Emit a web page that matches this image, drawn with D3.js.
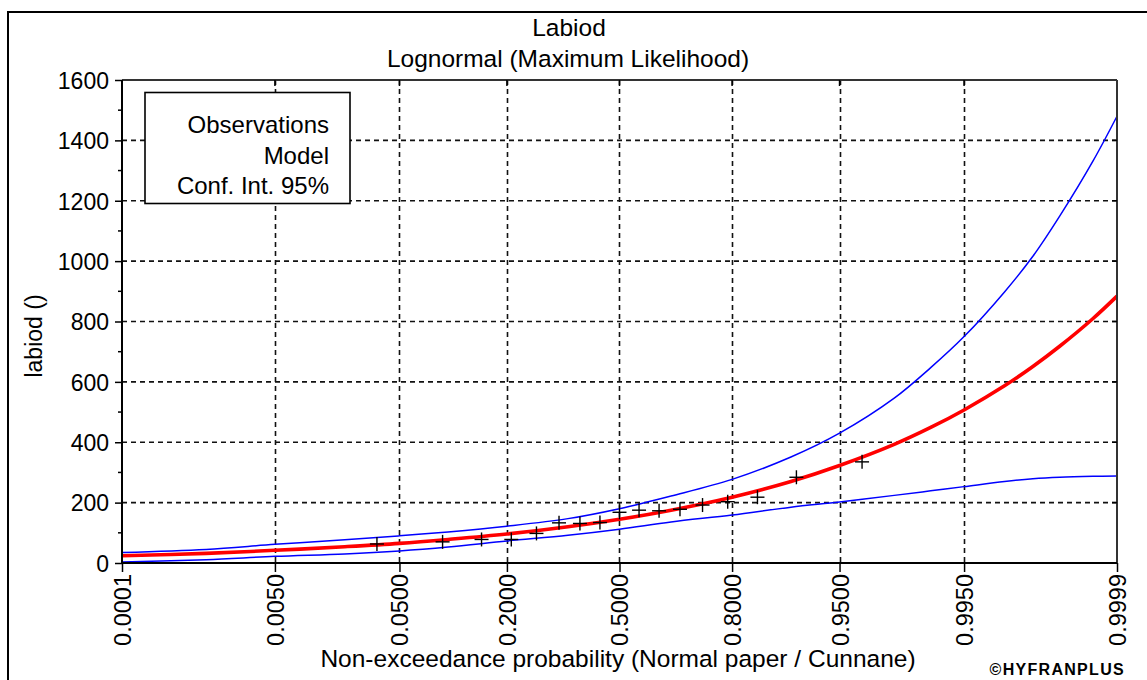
<!DOCTYPE html>
<html>
<head>
<meta charset="utf-8">
<script src="https://cdn.jsdelivr.net/npm/d3@7"></script>
<style>
  body { margin: 0; background: #fff; }
  svg { display: block; }
  text { font-family: Arial, "Liberation Sans", sans-serif; fill: #000; }
</style>
</head>
<body>
<svg id="chart" width="1147" height="680"></svg>
<script>
// Probability axis (normal paper) ticks and labels
const probTicks = [0.0001, 0.005, 0.05, 0.2, 0.5, 0.8, 0.95, 0.995, 0.9999];
const probTickLabels = ["0.0001", "0.0050", "0.0500", "0.2000", "0.5000", "0.8000", "0.9500", "0.9950", "0.9999"];
const valueTicks = [0, 200, 400, 600, 800, 1000, 1200, 1400, 1600];
const valueMinorTicks = [100, 300, 500, 700, 900, 1100, 1300, 1500];

// Observations with Cunnane plotting positions
const obsProb = [0.0349, 0.0930, 0.1512, 0.2093, 0.2674, 0.3256, 0.3837, 0.4419, 0.5000,
                 0.5581, 0.6163, 0.6744, 0.7326, 0.7907, 0.8488, 0.9070, 0.9651];
const obsValue = [63, 70, 78, 78, 98, 133, 131, 134, 168, 175, 173, 178, 192, 203, 218, 284, 335];

// Fitted lognormal model and 95% confidence bounds
const curveProb = [0.0001, 0.001, 0.005, 0.02, 0.05, 0.1, 0.2, 0.35, 0.5, 0.65, 0.8, 0.9,
                   0.95, 0.98, 0.99, 0.995, 0.998, 0.999, 0.9995, 0.9998, 0.9999];
const modelValue = [24, 32, 42, 54, 65, 78, 96, 120, 145, 175, 218, 270,
                    323, 393, 449, 507, 587, 651, 718, 810, 884];
const upperValue = [35, 45, 62, 77, 90, 103, 122, 147, 180, 222, 277, 351,
                    430, 546, 647, 750, 898, 1016, 1149, 1332, 1480];
const lowerValue = [3, 11, 22, 30, 40, 53, 73, 92, 112, 136, 159, 185,
                    202, 224, 239, 253, 270, 279, 284, 287, 288];

// Inverse standard normal CDF (Acklam's rational approximation)
function probit(p) {
  const a = [-3.969683028665376e+01, 2.209460984245205e+02, -2.759285104469687e+02,
             1.383577518672690e+02, -3.066479806614716e+01, 2.506628277459239e+00];
  const b = [-5.447609879822406e+01, 1.615858368580409e+02, -1.556989798598866e+02,
             6.680131188771972e+01, -1.328068155288572e+01];
  const c = [-7.784894002430293e-03, -3.223964580411365e-01, -2.400758277161838e+00,
             -2.549732539343734e+00, 4.374664141464968e+00, 2.938163982698783e+00];
  const d = [7.784695709041462e-03, 3.224671290700398e-01, 2.445134137142996e+00,
             3.754408661907416e+00];
  const pl = 0.02425, ph = 1 - pl;
  let q, r;
  if (p < pl) {
    q = Math.sqrt(-2 * Math.log(p));
    return (((((c[0]*q + c[1])*q + c[2])*q + c[3])*q + c[4])*q + c[5]) /
           ((((d[0]*q + d[1])*q + d[2])*q + d[3])*q + 1);
  }
  if (p > ph) {
    q = Math.sqrt(-2 * Math.log(1 - p));
    return -(((((c[0]*q + c[1])*q + c[2])*q + c[3])*q + c[4])*q + c[5]) /
            ((((d[0]*q + d[1])*q + d[2])*q + d[3])*q + 1);
  }
  q = p - 0.5; r = q * q;
  return (((((a[0]*r + a[1])*r + a[2])*r + a[3])*r + a[4])*r + a[5]) * q /
         (((((b[0]*r + b[1])*r + b[2])*r + b[3])*r + b[4])*r + 1);
}

const svg = d3.select("#chart");
const W = 1147, H = 680;
const plot = { left: 122, right: 1117, top: 80, bottom: 563 };

const x = d3.scaleLinear()
  .domain([probit(0.0001), probit(0.9999)])
  .range([plot.left, plot.right]);
const xp = p => x(probit(p));
const y = d3.scaleLinear().domain([0, 1600]).range([plot.bottom, plot.top]);

// Outer frame
svg.append("rect")
  .attr("x", 8).attr("y", 12).attr("width", W + 20).attr("height", H + 20)
  .attr("fill", "none").attr("stroke", "#000").attr("stroke-width", 2);

// Titles
svg.append("text").attr("x", 569).attr("y", 36).attr("text-anchor", "middle")
  .style("font-size", "24.5px").text("Labiod");
svg.append("text").attr("x", 568).attr("y", 67).attr("text-anchor", "middle")
  .style("font-size", "24.5px").text("Lognormal (Maximum Likelihood)");

// Grid
const grid = svg.append("g").attr("stroke", "#111").attr("stroke-width", 1.6)
  .attr("stroke-dasharray", "5,4");
grid.selectAll("line.v").data(probTicks.slice(1, -1)).join("line")
  .attr("class", "v")
  .attr("x1", d => Math.round(xp(d)) + 0.5).attr("x2", d => Math.round(xp(d)) + 0.5)
  .attr("y1", plot.top).attr("y2", plot.bottom);
grid.selectAll("line.h").data(valueTicks.slice(1, -1)).join("line")
  .attr("class", "h")
  .attr("x1", plot.left).attr("x2", plot.right)
  .attr("y1", d => y(d)).attr("y2", d => y(d));

// Curves
svg.append("clipPath").attr("id", "plotclip").append("rect")
  .attr("x", plot.left).attr("y", plot.top)
  .attr("width", plot.right - plot.left).attr("height", plot.bottom - plot.top);

const curves = svg.append("g").attr("clip-path", "url(#plotclip)");
const lineOf = vals => d3.line()
  .x((d, i) => xp(curveProb[i]))
  .y(d => y(d))
  .curve(d3.curveCatmullRom.alpha(0.5))(vals);

curves.append("path").attr("d", lineOf(upperValue))
  .attr("fill", "none").attr("stroke", "#0000ff").attr("stroke-width", 1.5);
curves.append("path").attr("d", lineOf(lowerValue))
  .attr("fill", "none").attr("stroke", "#0000ff").attr("stroke-width", 1.5);
curves.append("path").attr("d", lineOf(modelValue))
  .attr("fill", "none").attr("stroke", "#ff0000").attr("stroke-width", 3.6);

// Observations (+ markers)
const marks = svg.append("g").attr("stroke", "#000").attr("stroke-width", 1.4);
const s = 7;
obsValue.forEach((v, i) => {
  const cx = xp(obsProb[i]), cy = y(v);
  marks.append("line").attr("x1", cx - s).attr("x2", cx + s).attr("y1", cy).attr("y2", cy);
  marks.append("line").attr("x1", cx).attr("x2", cx).attr("y1", cy - s).attr("y2", cy + s);
});

// Plot frame
svg.append("line").attr("x1", plot.left).attr("x2", plot.right)
  .attr("y1", plot.top).attr("y2", plot.top).attr("stroke", "#333").attr("stroke-width", 2);
svg.append("line").attr("x1", plot.right).attr("x2", plot.right)
  .attr("y1", plot.top).attr("y2", plot.bottom).attr("stroke", "#333").attr("stroke-width", 2);

// Left axis
const yAxis = svg.append("g").attr("transform", `translate(${plot.left},0)`)
  .call(d3.axisLeft(y).tickValues(valueTicks).tickSize(7).tickFormat(d3.format("d")));
yAxis.select(".domain").attr("stroke", "#000").attr("stroke-width", 2)
  .attr("d", `M0,${plot.top}V${plot.bottom}`);
yAxis.selectAll(".tick line").attr("stroke", "#000").attr("stroke-width", 1.5);
yAxis.selectAll(".tick text").style("font-size", "23px").attr("x", -13).attr("dy", "0.36em")
  .style("font-family", "Arial, 'Liberation Sans', sans-serif").attr("fill", "#000");
yAxis.selectAll(".minor").data(valueMinorTicks).join("line")
  .attr("class", "minor").attr("x1", -4).attr("x2", 0)
  .attr("y1", d => y(d)).attr("y2", d => y(d))
  .attr("stroke", "#000").attr("stroke-width", 1.5);

// Right axis ticks
svg.append("g").selectAll("line").data(valueTicks.slice(1, -1)).join("line")
  .attr("x1", plot.right - 5).attr("x2", plot.right)
  .attr("y1", d => y(d)).attr("y2", d => y(d))
  .attr("stroke", "#000").attr("stroke-width", 1.5);

// Top axis ticks
svg.append("g").selectAll("line").data(probTicks.slice(1, -1)).join("line")
  .attr("x1", d => xp(d)).attr("x2", d => xp(d))
  .attr("y1", plot.top).attr("y2", plot.top + 6)
  .attr("stroke", "#000").attr("stroke-width", 1.5);

// Bottom axis
const xAxis = svg.append("g").attr("transform", `translate(0,${plot.bottom})`)
  .call(d3.axisBottom(x).tickValues(probTicks.map(probit)).tickSize(9)
    .tickFormat((d, i) => probTickLabels[i]));
xAxis.select(".domain").attr("stroke", "#000").attr("stroke-width", 2)
  .attr("d", `M${plot.left},0H${plot.right}`);
xAxis.selectAll(".tick line").attr("stroke", "#000").attr("stroke-width", 1.5);
xAxis.selectAll(".tick text")
  .style("font-size", "23.5px")
  .style("font-family", "Arial, 'Liberation Sans', sans-serif").attr("fill", "#000")
  .attr("text-anchor", "end")
  .attr("transform", "rotate(-90)")
  .attr("x", -11).attr("y", 0).attr("dy", "0.36em");

// Axis titles
svg.append("text")
  .attr("transform", "translate(42,336) rotate(-90)")
  .attr("text-anchor", "middle").style("font-size", "23px").text("labiod ()");
svg.append("text").attr("x", 618).attr("y", 667).attr("text-anchor", "middle")
  .style("font-size", "24.5px").text("Non-exceedance probability (Normal paper / Cunnane)");
svg.append("text").attr("x", 1125).attr("y", 675).attr("text-anchor", "end")
  .style("font-size", "16px").style("font-weight", "bold").style("letter-spacing", "1.3px")
  .text("©HYFRANPLUS");

// Legend
const legend = svg.append("g");
legend.append("rect").attr("x", 145).attr("y", 92.5).attr("width", 205).attr("height", 111)
  .attr("fill", "#fff").attr("stroke", "#000").attr("stroke-width", 1.6);
const legendItems = ["Observations", "Model", "Conf. Int. 95%"];
legend.selectAll("text").data(legendItems).join("text")
  .attr("x", 329).attr("y", (d, i) => 133 + i * 30.5)
  .attr("text-anchor", "end").style("font-size", "24px").text(d => d);
</script>
</body>
</html>
